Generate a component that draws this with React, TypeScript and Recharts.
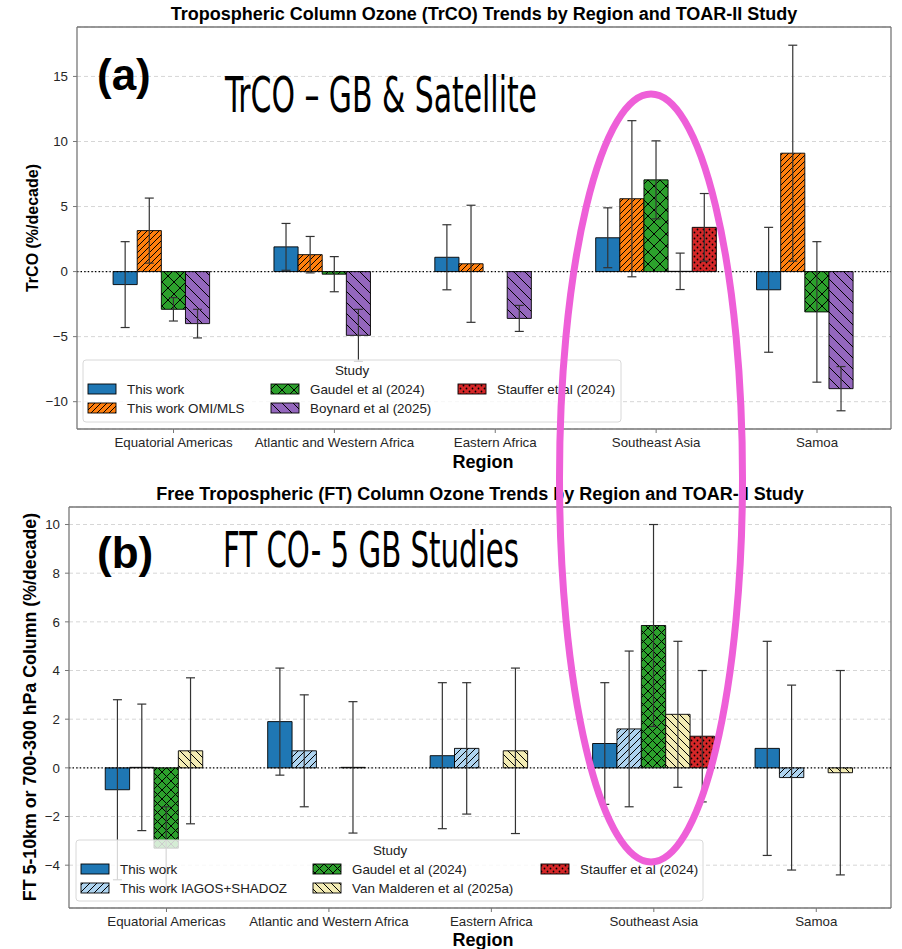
import React from 'react';
import { Bar, BarChart, CartesianGrid, ErrorBar, ReferenceLine, XAxis, YAxis } from 'recharts';

const REGIONS = [
  'Equatorial Americas',
  'Atlantic and Western Africa',
  'Eastern Africa',
  'Southeast Asia',
  'Samoa',
];
const X_TICKS = [0, 1, 2, 3, 4];

// (a) tropospheric column ozone, %/decade, with error bars
const A_THIS_WORK = [-1.0, 1.9, 1.1, 2.6, -1.4];
const A_THIS_WORK_ERR = [3.3, 1.8, 2.5, 2.3, 4.8];
const A_OMI_MLS = [3.15, 1.3, 0.6, 5.6, 9.1];
const A_OMI_MLS_ERR = [2.5, 1.4, 4.5, 6.0, 8.3];
const A_GAUDEL = [-2.9, -0.2, null, 7.05, -3.1];
const A_GAUDEL_ERR = [0.9, 1.35, null, 3.0, 5.4];
const A_BOYNARD = [-4.0, -4.9, -3.6, 0.02, -9.0];
const A_BOYNARD_ERR = [1.1, 2.0, 1.0, 1.4, 1.7];
const A_STAUFFER = [null, null, null, 3.4, null];
const A_STAUFFER_ERR = [null, null, null, 2.6, null];
const A_Y_TICKS = [-10, -5, 0, 5, 10, 15];

// (b) free tropospheric column ozone, %/decade
const B_THIS_WORK = [-0.9, 1.9, 0.5, 1.0, 0.8];
const B_THIS_WORK_ERR = [3.7, 2.2, 3.0, 2.5, 4.4];
const B_IAGOS = [0.02, 0.7, 0.8, 1.6, -0.4];
const B_IAGOS_ERR = [2.6, 2.3, 2.7, 3.2, 3.8];
const B_GAUDEL = [-3.3, null, null, 5.85, null];
const B_GAUDEL_ERR = [1.7, null, null, 4.15, null];
const B_VAN_MALDEREN = [0.7, 0.02, 0.7, 2.2, -0.2];
const B_VAN_MALDEREN_ERR = [3.0, 2.7, 3.4, 3.0, 4.2];
const B_STAUFFER = [null, null, null, 1.3, null];
const B_STAUFFER_ERR = [null, null, null, 2.7, null];
const B_Y_TICKS = [-4, -2, 0, 2, 4, 6, 8, 10];

type Hatch = 'none' | 'ne' | 'nw' | 'x' | 'dots';
type Series = {
  key: string;
  name: string;
  color: string;
  hatch: Hatch;
  gap: number;
  values: (number | null)[];
  errors: (number | null)[];
};

const SERIES_A: Series[] = [
  { key: 's1', name: 'This work', color: '#1f77b4', hatch: 'none', gap: 0, values: A_THIS_WORK, errors: A_THIS_WORK_ERR },
  { key: 's2', name: 'This work OMI/MLS', color: '#ff7f0e', hatch: 'ne', gap: 6, values: A_OMI_MLS, errors: A_OMI_MLS_ERR },
  { key: 's3', name: 'Gaudel et al (2024)', color: '#2ca02c', hatch: 'x', gap: 12, values: A_GAUDEL, errors: A_GAUDEL_ERR },
  { key: 's4', name: 'Boynard et al (2025)', color: '#9467bd', hatch: 'nw', gap: 11, values: A_BOYNARD, errors: A_BOYNARD_ERR },
  { key: 's5', name: 'Stauffer et al (2024)', color: '#d62728', hatch: 'dots', gap: 6, values: A_STAUFFER, errors: A_STAUFFER_ERR },
];

const SERIES_B: Series[] = [
  { key: 's1', name: 'This work', color: '#1f77b4', hatch: 'none', gap: 0, values: B_THIS_WORK, errors: B_THIS_WORK_ERR },
  { key: 's2', name: 'This work IAGOS+SHADOZ', color: '#aed3ef', hatch: 'ne', gap: 7, values: B_IAGOS, errors: B_IAGOS_ERR },
  { key: 's3', name: 'Gaudel et al (2024)', color: '#2ca02c', hatch: 'x', gap: 9, values: B_GAUDEL, errors: B_GAUDEL_ERR },
  { key: 's4', name: 'Van Malderen et al (2025a)', color: '#f3ecb4', hatch: 'nw', gap: 8, values: B_VAN_MALDEREN, errors: B_VAN_MALDEREN_ERR },
  { key: 's5', name: 'Stauffer et al (2024)', color: '#d62728', hatch: 'dots', gap: 6, values: B_STAUFFER, errors: B_STAUFFER_ERR },
];

const buildRows = (series: Series[]) =>
  REGIONS.map((region, i) => {
    const row: Record<string, number | string | null> = { x: i, region };
    series.forEach((s) => {
      row[s.key] = s.values[i];
      row[`${s.key}Err`] = s.errors[i];
    });
    return row;
  });

const FONT = "'Liberation Sans', Arial, Helvetica, sans-serif";
const W = 902;
const X_MIN = -0.6;
const X_MAX = 4.46;
const RIGHT = 11;
const FRAME = '#777';

function HatchPattern({ id, s }: { id: string; s: Series }) {
  const g = s.gap;
  let marks: React.ReactNode = null;
  const ne = `M0,${g} L${g},0 M${-g / 2},${g / 2} L${g / 2},${-g / 2} M${g / 2},${g * 1.5} L${g * 1.5},${g / 2}`;
  const nw = `M0,0 L${g},${g} M${-g / 2},${g / 2} L${g / 2},${g * 1.5} M${g / 2},${-g / 2} L${g * 1.5},${g / 2}`;
  if (s.hatch === 'ne') marks = <path d={ne} stroke="#000" strokeWidth={1} />;
  if (s.hatch === 'nw') marks = <path d={nw} stroke="#000" strokeWidth={1} />;
  if (s.hatch === 'x') marks = <path d={`${ne} ${nw}`} stroke="#000" strokeWidth={1} />;
  if (s.hatch === 'dots')
    marks = (
      <g fill="#000">
        <circle cx={g / 4} cy={g / 4} r={0.9} />
        <circle cx={(3 * g) / 4} cy={(3 * g) / 4} r={0.9} />
      </g>
    );
  return (
    <pattern id={id} width={g} height={g} patternUnits="userSpaceOnUse">
      <rect width={g} height={g} fill={s.color} />
      {marks}
    </pattern>
  );
}

const fmtY = (v: number) => (v < 0 ? `\u2212${-v}` : `${v}`);

function TrendPanel({
  id,
  series,
  height,
  top,
  yWidth,
  yDomain,
  yTicks,
}: {
  id: string;
  series: Series[];
  height: number;
  top: number;
  yWidth: number;
  yDomain: [number, number];
  yTicks: number[];
}) {
  const rows = buildRows(series);
  const unit = (W - yWidth - RIGHT) / (X_MAX - X_MIN);
  const barSize = unit * 0.15;
  const tickStyle = { fill: '#262626', fontSize: 13.3, fontFamily: FONT };
  return (
    <BarChart
      width={W}
      height={height}
      data={rows}
      margin={{ top, right: RIGHT, bottom: 0, left: 0 }}
      barGap={0}
      barSize={barSize}
    >
      <defs>
        {series
          .filter((s) => s.hatch !== 'none')
          .map((s) => (
            <HatchPattern key={s.key} id={`${id}-${s.key}`} s={s} />
          ))}
      </defs>
      <CartesianGrid vertical={false} stroke="#d6d6d6" strokeDasharray="4 3" />
      <XAxis
        dataKey="x"
        type="number"
        domain={[X_MIN, X_MAX]}
        ticks={X_TICKS}
        interval={0}
        tickFormatter={(i: number) => REGIONS[i]}
        height={41}
        tick={tickStyle}
        tickSize={4}
        tickMargin={5}
        stroke={FRAME}
        axisLine={{ stroke: FRAME, strokeWidth: 1.3 }}
      />
      <YAxis
        type="number"
        domain={yDomain}
        ticks={yTicks}
        interval={0}
        width={yWidth}
        tick={tickStyle}
        tickFormatter={fmtY}
        tickSize={4}
        tickMargin={5}
        stroke={FRAME}
        axisLine={{ stroke: FRAME, strokeWidth: 1.3 }}
      />
      {/* top and right edges of the axes box */}
      <ReferenceLine y={yDomain[1]} stroke={FRAME} strokeWidth={1.3} />
      <ReferenceLine x={X_MAX} stroke={FRAME} strokeWidth={1.3} />
      {series.map((s) => (
        <Bar
          key={s.key}
          dataKey={s.key}
          name={s.name}
          fill={s.hatch === 'none' ? s.color : `url(#${id}-${s.key})`}
          stroke="#000"
          strokeWidth={0.9}
          isAnimationActive={false}
        >
          <ErrorBar dataKey={`${s.key}Err`} direction="y" width={4.5} stroke="#333" strokeWidth={1.2} />
        </Bar>
      ))}
      <ReferenceLine y={0} stroke="#000" strokeWidth={1.3} strokeDasharray="1.4 2.2" />
    </BarChart>
  );
}

function LegendBox({
  series,
  x,
  y,
  w,
  h,
  titleX,
  cols,
  prefix,
}: {
  series: Series[];
  x: number;
  y: number;
  w: number;
  h: number;
  titleX: number;
  cols: number[];
  prefix: string;
}) {
  return (
    <g fontFamily={FONT} fontSize={13.4} fill="#222">
      <defs>
        {series
          .filter((s) => s.hatch !== 'none')
          .map((s) => (
            <HatchPattern key={s.key} id={`${prefix}-${s.key}`} s={s} />
          ))}
      </defs>
      <rect x={x} y={y} width={w} height={h} rx={3} fill="#fff" fillOpacity={0.8} stroke="#d8d8d8" />
      <text x={titleX} y={y + 15} textAnchor="middle">
        Study
      </text>
      {series.map((s, i) => {
        const col = Math.floor(i / 2);
        const rowY = y + 29 + (i % 2) * 19;
        const sx = cols[col];
        return (
          <g key={s.key}>
            <rect
              x={sx}
              y={rowY - 5}
              width={28}
              height={10}
              fill={s.hatch === 'none' ? s.color : `url(#${prefix}-${s.key})`}
              stroke="#000"
              strokeWidth={0.9}
            />
            <text x={sx + 39} y={rowY + 4.5}>
              {s.name}
            </text>
          </g>
        );
      })}
    </g>
  );
}

export default function App() {
  return (
    <div style={{ position: 'absolute', left: 0, top: 0, width: W, height: 949, background: '#fff' }}>
      <div style={{ position: 'absolute', left: 0, top: 0 }}>
        <TrendPanel
          id="pa"
          series={SERIES_A}
          height={470}
          top={27}
          yWidth={77}
          yDomain={[-12.1, 18.8]}
          yTicks={A_Y_TICKS}
        />
      </div>
      <div style={{ position: 'absolute', left: 0, top: 475 }}>
        <TrendPanel
          id="pb"
          series={SERIES_B}
          height={474}
          top={32}
          yWidth={69}
          yDomain={[-5.76, 10.72]}
          yTicks={B_Y_TICKS}
        />
      </div>
      <svg
        width={W}
        height={949}
        style={{ position: 'absolute', left: 0, top: 0, pointerEvents: 'none' }}
      >
        <LegendBox series={SERIES_A} x={83} y={360} w={538} h={62} titleX={352} cols={[88, 271, 458]} prefix="la" />
        <LegendBox series={SERIES_B} x={76} y={840} w={627} h={61} titleX={390} cols={[81, 313, 541]} prefix="lb" />

        <g fontFamily={FONT} fontWeight="bold" fill="#000">
          <text x={484} y={20} fontSize={18} textAnchor="middle">
            Tropospheric Column Ozone (TrCO) Trends by Region and TOAR-II Study
          </text>
          <text x={480} y={500} fontSize={18} textAnchor="middle">
            Free Tropospheric (FT) Column Ozone Trends by Region and TOAR-II Study
          </text>
          <text x={483} y={468} fontSize={18} textAnchor="middle">
            Region
          </text>
          <text x={483} y={946} fontSize={18} textAnchor="middle">
            Region
          </text>
          <text transform="translate(38,228) rotate(-90)" fontSize={16} textAnchor="middle">
            TrCO (%/decade)
          </text>
          <text transform="translate(36,707) rotate(-90)" fontSize={17.8} textAnchor="middle">
            FT 5-10km or 700-300 hPa Column (%/decade)
          </text>
          <text x={97} y={90} fontSize={44}>
            (a)
          </text>
          <text x={97} y={568} fontSize={44}>
            (b)
          </text>
        </g>
        <g fontFamily="'DejaVu Sans Condensed', 'Liberation Sans Narrow', 'DejaVu Sans', sans-serif" fill="#000">
          <text x={225} y={112} fontSize={50} textLength={312} lengthAdjust="spacingAndGlyphs">
            TrCO – GB &amp; Satellite
          </text>
          <text x={223} y={567} fontSize={50} textLength={296} lengthAdjust="spacingAndGlyphs">
            FT CO- 5 GB Studies
          </text>
        </g>
        <ellipse cx={651} cy={478} rx={91.5} ry={384} fill="none" stroke="#ee5fd8" strokeWidth={7} />
      </svg>
    </div>
  );
}
